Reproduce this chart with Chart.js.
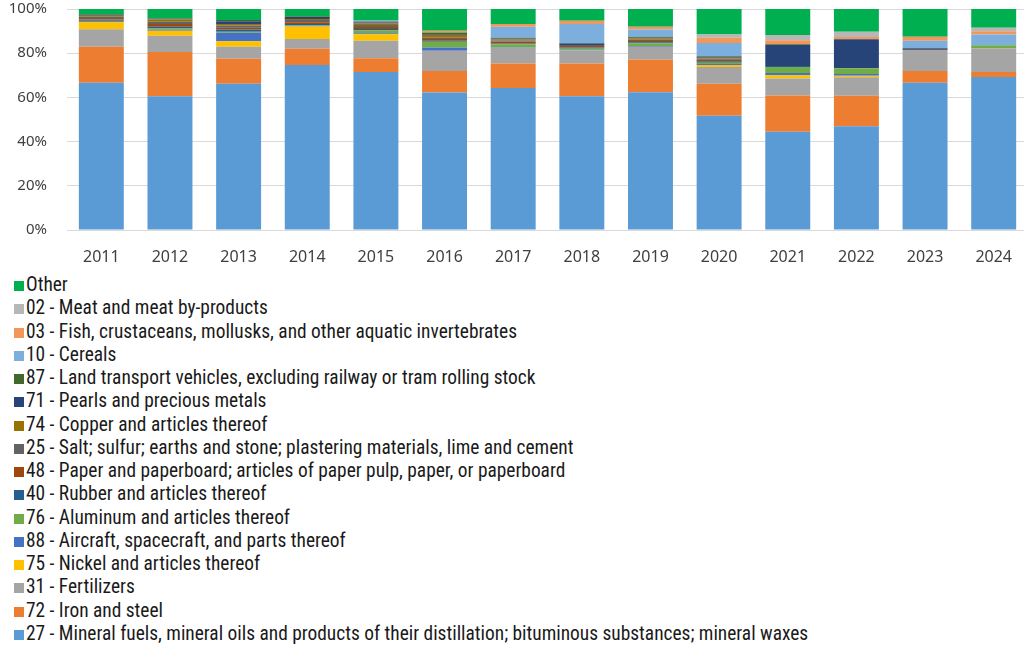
<!DOCTYPE html>
<html>
<head>
<meta charset="utf-8">
<script src="https://cdn.jsdelivr.net/npm/chart.js@4.4.1/dist/chart.umd.min.js"></script>
<style>
  html, body { margin: 0; padding: 0; background: #fff; overflow: hidden; }
  #wrap { position: relative; width: 1030px; height: 270px; overflow: hidden; }
  #myChart { position: absolute; left: 0; top: -20px; }
  #legend { position: absolute; left: 14px; top: 273px; font-family: "Roboto Condensed", "DejaVu Sans Condensed", sans-serif; font-size: 19.4px; color: #1a1a1a; }
  .item { height: 23.27px; line-height: 23.27px; white-space: nowrap; }
  .box { display: inline-block; width: 10px; height: 10px; margin-right: 2px; vertical-align: 0px; }
</style>
</head>
<body>
<div id="wrap"><canvas id="myChart" width="1030" height="290"></canvas></div>
<div id="legend"></div>
<script>
// años
const years = ['2011','2012','2013','2014','2015','2016','2017','2018','2019','2020','2021','2022','2023','2024'];
const yTicks = ['0%','20%','40%','60%','80%','100%'];

// participación (%) por capítulo, de abajo hacia arriba en la pila
const s27 = [66.4, 60.6, 65.9, 74.5, 71.5, 61.8, 64.0, 60.3, 62.1, 51.5, 44.5, 46.8, 66.2, 69.0];
const s72 = [16.2, 20.0, 11.4, 7.3, 6.2, 9.7, 11.0, 14.7, 14.8, 14.4, 16.4, 13.8, 5.3, 2.3];
const s31 = [7.9, 7.4, 5.3, 4.5, 7.9, 9.1, 7.1, 6.0, 5.8, 7.6, 7.6, 8.4, 9.5, 10.6];
const s75 = [3.0, 2.3, 2.5, 5.6, 3.0, 0, 0, 0, 0, 0.9, 1.5, 0.7, 0, 0];
const s88 = [0, 0.4, 3.8, 0.3, 0.4, 1.5, 0.3, 0.3, 0.3, 0.4, 1.0, 0.8, 0, 0];
const s76 = [0.4, 0.6, 0.5, 0.4, 1.3, 2.6, 1.3, 0.7, 1.2, 0.6, 2.7, 2.6, 0, 1.5];
const s40 = [0.4, 0.8, 1.0, 0.4, 0.6, 0.4, 0.4, 0.3, 0.5, 0.6, 0.5, 0, 0, 0];
const s48 = [0.6, 1.2, 0.8, 0.8, 0.9, 0.8, 0.8, 0.6, 0.6, 0.7, 0, 0, 0, 0];
const s25 = [1.2, 1.0, 1.0, 1.0, 1.0, 0.6, 0.5, 0.5, 0.5, 0.6, 0, 0, 0.4, 0];
const s74 = [0.5, 1.0, 0.6, 0.5, 0.6, 1.2, 0.4, 0, 0.6, 0.3, 0, 0, 0, 0];
const s71 = [0.3, 0.4, 1.3, 0.9, 0.5, 0.3, 0.5, 0.6, 0.3, 0.4, 9.5, 13.0, 0.3, 0];
const s87 = [0.3, 0.2, 0.5, 0.3, 0.4, 0.8, 0.3, 0.3, 0.5, 0.3, 0.4, 0, 0, 0];
const s10 = [0, 0, 0, 0, 0.7, 0, 5.0, 8.5, 3.3, 6.0, 0, 0, 3.4, 4.8];
const s03 = [0, 0, 0, 0, 0, 0.8, 1.2, 1.5, 1.2, 2.3, 1.8, 1.1, 1.8, 1.5];
const s02 = [0, 0, 0, 0, 0, 0, 0, 0, 0, 1.5, 2.3, 2.3, 0, 1.5];
const sOther = [2.4, 4.2, 5.0, 3.3, 5.0, 9.8, 6.8, 5.3, 8.0, 11.5, 11.8, 10.3, 12.5, 8.5];

const series = [
  ['27 - Mineral fuels, mineral oils and products of their distillation; bituminous substances; mineral waxes', s27, '#5B9BD5'],
  ['72 - Iron and steel', s72, '#ED7D31'],
  ['31 - Fertilizers', s31, '#A5A5A5'],
  ['75 - Nickel and articles thereof', s75, '#FFC000'],
  ['88 - Aircraft, spacecraft, and parts thereof', s88, '#4472C4'],
  ['76 - Aluminum and articles thereof', s76, '#70AD47'],
  ['40 - Rubber and articles thereof', s40, '#255E91'],
  ['48 - Paper and paperboard; articles of paper pulp, paper, or paperboard', s48, '#9E480E'],
  ['25 - Salt; sulfur; earths and stone; plastering materials, lime and cement', s25, '#636363'],
  ['74 - Copper and articles thereof', s74, '#997300'],
  ['71 - Pearls and precious metals', s71, '#264478'],
  ['87 - Land transport vehicles, excluding railway or tram rolling stock', s87, '#43682B'],
  ['10 - Cereals', s10, '#7CAFDD'],
  ['03 - Fish, crustaceans, mollusks, and other aquatic invertebrates', s03, '#F1975A'],
  ['02 - Meat and meat by-products', s02, '#B7B7B7'],
  ['Other', sOther, '#00B050']
];

// totales por año para normalizar al 100%
const totals = years.map((y, i) => series.reduce((acc, s) => acc + s[1][i], 0));

const datasets = series.map(s => ({
  label: s[0],
  data: s[1].map((v, i) => v / totals[i] * 100),
  backgroundColor: s[2],
  borderWidth: 0,
  categoryPercentage: 1,
  barPercentage: 0.655
}));

new Chart(document.getElementById('myChart'), {
  type: 'bar',
  data: { labels: years, datasets: datasets },
  options: {
    responsive: false,
    animation: false,
    layout: { padding: { top: 10, left: 0, right: 0, bottom: 0 } },
    plugins: { legend: { display: false }, tooltip: { enabled: false } },
    scales: {
      x: {
        stacked: true,
        grid: { display: false, drawTicks: false },
        border: { color: '#D9D9D9' },
        ticks: { color: '#404040', font: { family: 'Noto Sans', size: 16 }, padding: 18 },
        afterFit: s => { s.height = 40; }
      },
      y: {
        stacked: true,
        min: 0, max: 100,
        ticks: {
          stepSize: 20,
          color: '#404040',
          font: { family: 'Noto Sans', size: 15 },
          padding: 20,
          callback: (v, i) => yTicks[i]
        },
        grid: { color: '#D9D9D9', drawTicks: false },
        border: { display: false },
        afterFit: s => { s.width = 67; }
      }
    }
  }
});

// leyenda en orden inverso, una por línea
const legend = document.getElementById('legend');
series.slice().reverse().forEach(s => {
  const div = document.createElement('div');
  div.className = 'item';
  div.innerHTML = '<span class="box" style="background:' + s[2] + '"></span>' + s[0];
  legend.appendChild(div);
});
</script>
</body>
</html>
